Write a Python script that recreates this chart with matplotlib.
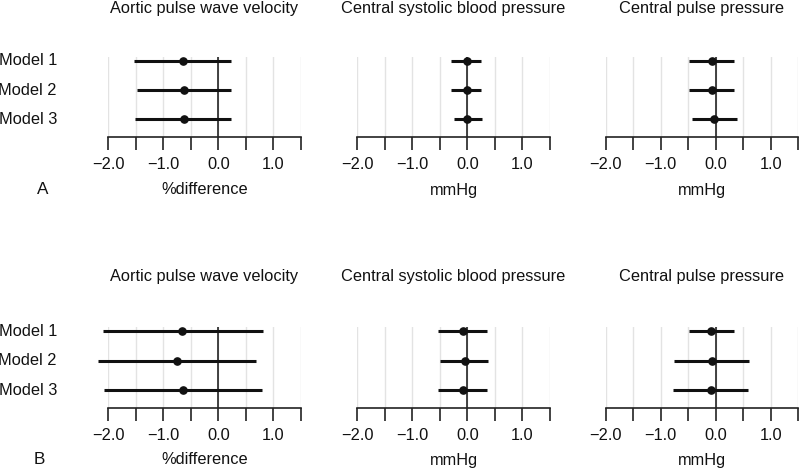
import matplotlib
matplotlib.use("Agg")
import matplotlib.pyplot as plt

plt.rcParams['font.family'] = ['Liberation Sans', 'DejaVu Sans']

models = ["Model 1", "Model 2", "Model 3"]
titles = ["Aortic pulse wave velocity", "Central systolic blood pressure", "Central pulse pressure"]
xlabels = ["%difference", "mmHg", "mmHg"]
panel_labels = ["A", "B"]
tick_values = [-2.0, -1.5, -1.0, -0.5, 0.0, 0.5, 1.0, 1.5]
tick_labels = ["\u22122.0", "", "\u22121.0", "", "0.0", "", "1.0", ""]

# Panel A
A_pwv_est = [-0.64, -0.62, -0.62]
A_pwv_lo = [-1.53, -1.48, -1.51]
A_pwv_hi = [0.23, 0.23, 0.23]
A_csbp_est = [-0.01, -0.01, 0.00]
A_csbp_lo = [-0.30, -0.30, -0.25]
A_csbp_hi = [0.25, 0.25, 0.27]
A_cpp_est = [-0.07, -0.07, -0.03]
A_cpp_lo = [-0.48, -0.48, -0.44]
A_cpp_hi = [0.33, 0.33, 0.38]
# Panel B
B_pwv_est = [-0.66, -0.76, -0.64]
B_pwv_lo = [-2.10, -2.19, -2.08]
B_pwv_hi = [0.81, 0.69, 0.79]
B_csbp_est = [-0.07, -0.05, -0.07]
B_csbp_lo = [-0.53, -0.50, -0.53]
B_csbp_hi = [0.35, 0.37, 0.35]
B_cpp_est = [-0.08, -0.07, -0.08]
B_cpp_lo = [-0.48, -0.76, -0.78]
B_cpp_hi = [0.33, 0.61, 0.59]

data = [
    [(A_pwv_est, A_pwv_lo, A_pwv_hi), (A_csbp_est, A_csbp_lo, A_csbp_hi), (A_cpp_est, A_cpp_lo, A_cpp_hi)],
    [(B_pwv_est, B_pwv_lo, B_pwv_hi), (B_csbp_est, B_csbp_lo, B_csbp_hi), (B_cpp_est, B_cpp_lo, B_cpp_hi)],
]

W, H = 800, 470
fig = plt.figure(figsize=(8, 4.7), dpi=100)

lefts = [108.3, 357.3, 605.7]
width = 192.5
tops = [56.7, 327.3]
bottoms = [136.7, 407.7]
title_y = [8, 277]
xlabel_y = [190, 460]
panel_x = [43, 39]
fs = 11.8
label_right = 57

ypos = [1, 2, 3]
for r in range(2):
    for c in range(3):
        ax = fig.add_axes([lefts[c] / W, 1 - bottoms[r] / H, width / W, (bottoms[r] - tops[r]) / H])
        est, lo, hi = data[r][c]
        ax.set_xlim(-2.0, 1.5)
        ax.set_ylim(3.59, 0.86)
        for t in tick_values:
            ax.axvline(t, color='#e3e3e3', lw=1.0, zorder=0)
        ax.axvline(0, color='#111111', lw=1.1, zorder=1)
        ax.hlines(ypos, lo, hi, color='#111111', lw=2.2, zorder=3, clip_on=False)
        ax.plot(est, ypos, 'o', color='#111111', ms=5.2, zorder=4, clip_on=False)
        for s in ['top', 'right', 'left']:
            ax.spines[s].set_visible(False)
        ax.spines['bottom'].set_linewidth(1.2)
        ax.spines['bottom'].set_color('#222222')
        ax.set_yticks([])
        ax.set_xticks(tick_values)
        ax.set_xticklabels(tick_labels, fontsize=fs, color='#111111')
        ax.tick_params(axis='x', length=9.5, width=1.2, pad=5, direction='out', color='#222222')
        ax.patch.set_alpha(0)
        cx = (lefts[c] + width / 2) / W
        fig.text(cx, 1 - title_y[r] / H, titles[c], ha='center', va='center', fontsize=fs, color='#111111')
        fig.text(cx, 1 - xlabel_y[r] / H, xlabels[c], ha='center', va='center', fontsize=fs, color='#111111')
        if c == 0:
            for m, yv in zip(models, ypos):
                y_disp = ax.transData.transform((0, yv))[1]
                fig.text(label_right / W, y_disp / H, m, ha='right', va='center',
                         fontsize=fs, color='#111111')
    fig.text(panel_x[r] / W, 1 - xlabel_y[r] / H, panel_labels[r], ha='center', va='center',
             fontsize=fs + 0.5, color='#111111')

fig.savefig("out.png", dpi=100)
